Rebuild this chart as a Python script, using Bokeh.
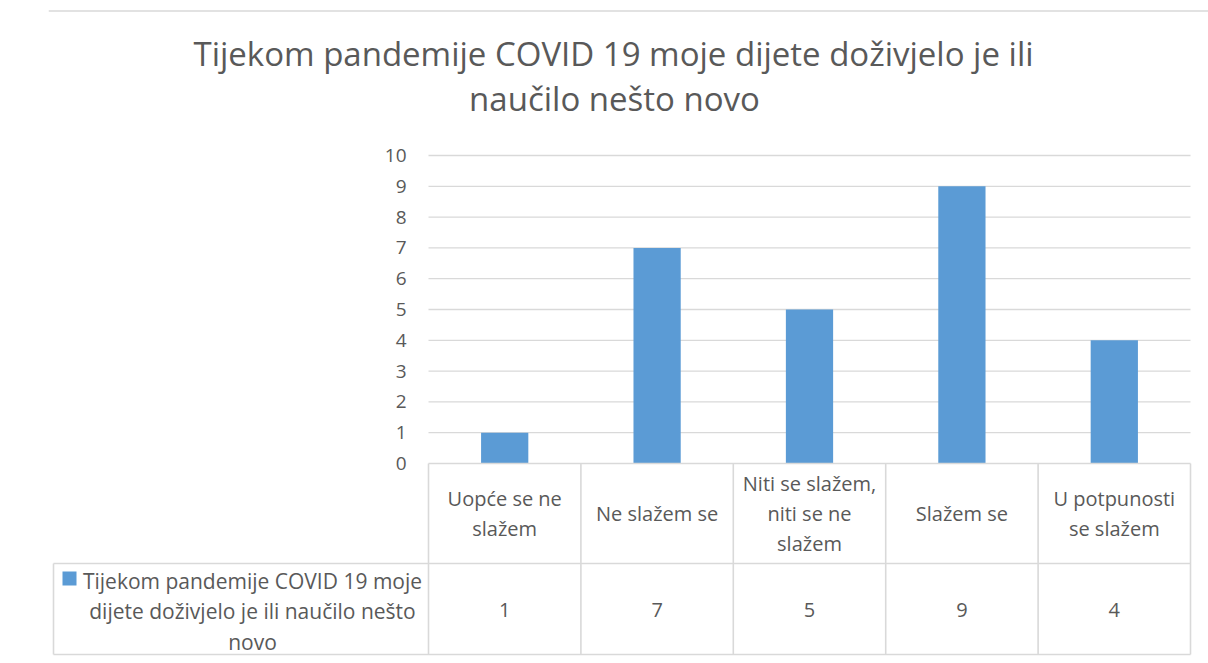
from bokeh.plotting import figure
from bokeh.models import Range1d, FixedTicker, Label, BoxAnnotation, LinearAxis
from bokeh.core.properties import value
from bokeh.embed import file_html
from bokeh.resources import INLINE

# ---- data ----
title_lines = ["Tijekom pandemije COVID 19 moje dijete doživjelo je ili",
               "naučilo nešto novo"]
categories = ["Uopće se ne\nslažem", "Ne slažem se",
              "Niti se slažem,\nniti se ne\nslažem", "Slažem se",
              "U potpunosti\nse slažem"]
values = [1, 7, 5, 9, 4]
series_name = "Tijekom pandemije COVID 19 moje\ndijete doživjelo je ili naučilo nešto\nnovo"
y_ticks = list(range(0, 11))

# ---- layout helpers (page pixels -> data units) ----
XPX = 152.4
YPX = 30.8
def dx(px):
    return (px - 428) / XPX
def dy(py):
    return (463 - py) / YPX

FONT = value("Open Sans")
TXT = "#595959"
LINE = "#D9D9D9"
BAR = "#5B9BD5"
W, H = 1208, 663
LEFT = 48

p = figure(width=W, height=H, output_backend="svg", toolbar_location=None,
           x_range=Range1d(dx(LEFT), dx(W)), y_range=Range1d(dy(H), dy(0)),
           x_axis_location=None, y_axis_location=None, min_border=0)
p.min_border_left = LEFT
p.min_border_right = 0
p.min_border_top = 0
p.min_border_bottom = 0
p.outline_line_color = None
p.background_fill_color = "white"
p.border_fill_color = "white"
for g in p.xgrid:
    g.visible = False
for g in p.ygrid:
    g.visible = False

# y axis fixed at the left edge of the plot area
ax = LinearAxis(ticker=FixedTicker(ticks=y_ticks), fixed_location=0)
ax.axis_line_color = None
ax.major_tick_line_color = None
ax.minor_tick_line_color = None
ax.major_tick_in = 0
ax.major_tick_out = 0
ax.major_label_standoff = 22
ax.major_label_text_font = "Open Sans"
ax.major_label_text_font_size = "19px"
ax.major_label_text_color = TXT
p.add_layout(ax, "left")

n = len(categories)
xs = [i + 0.5 for i in range(n)]

# horizontal grid lines (plot area only)
gt = y_ticks[1:]
p.segment(x0=[0] * len(gt), y0=gt, x1=[n] * len(gt), y1=gt,
          line_color=LINE, line_width=1.3)

# bars
p.vbar(x=xs, top=values, bottom=0, width=0.31, fill_color=BAR, line_color=None)

# data table grid
p.segment(x0=list(range(n + 1)), y0=[0] * (n + 1), x1=list(range(n + 1)),
          y1=[dy(654)] * (n + 1), line_color=LINE, line_width=1.6)
p.segment(x0=[0, dx(53), dx(53)], y0=[0, dy(563), dy(654)], x1=[n, n, n],
          y1=[0, dy(563), dy(654)], line_color=LINE, line_width=1.6)
p.segment(x0=[dx(53)], y0=[dy(563)], x1=[dx(53)], y1=[dy(654)],
          line_color=LINE, line_width=1.6)

# category row
p.text(x=xs, y=[dy(513)] * n, text=categories, text_align="center",
       text_baseline="middle", text_font=FONT, text_font_size="20px",
       text_color=TXT, text_line_height=1.12)
# value row
p.text(x=xs, y=[dy(609)] * n, text=[str(v) for v in values], text_align="center",
       text_baseline="middle", text_font=FONT, text_font_size="20px",
       text_color=TXT)

# legend cell
p.add_layout(BoxAnnotation(left=dx(62), right=dx(76), top=dy(571), bottom=dy(585),
                           fill_color=BAR, fill_alpha=1, line_color=None))
p.add_layout(Label(x=dx(252), y=dy(611), text=series_name, text_align="center",
                   text_baseline="middle", text_font="Open Sans",
                   text_font_size="21px", text_color=TXT, text_line_height=1.08))

# outer chart border (top edge)
p.segment(x0=[dx(LEFT)], y0=[dy(10.5)], x1=[dx(W)], y1=[dy(10.5)],
          line_color=LINE, line_width=1.5)

# title
p.add_layout(Label(x=dx(613), y=dy(53), text=title_lines[0], text_align="center",
                   text_baseline="alphabetic", text_font="Open Sans",
                   text_font_size="33px", text_color=TXT))
p.add_layout(Label(x=dx(614), y=dy(98), text=title_lines[1], text_align="center",
                   text_baseline="alphabetic", text_font="Open Sans",
                   text_font_size="33px", text_color=TXT))

open("out.html", "w").write(file_html(p, INLINE))
